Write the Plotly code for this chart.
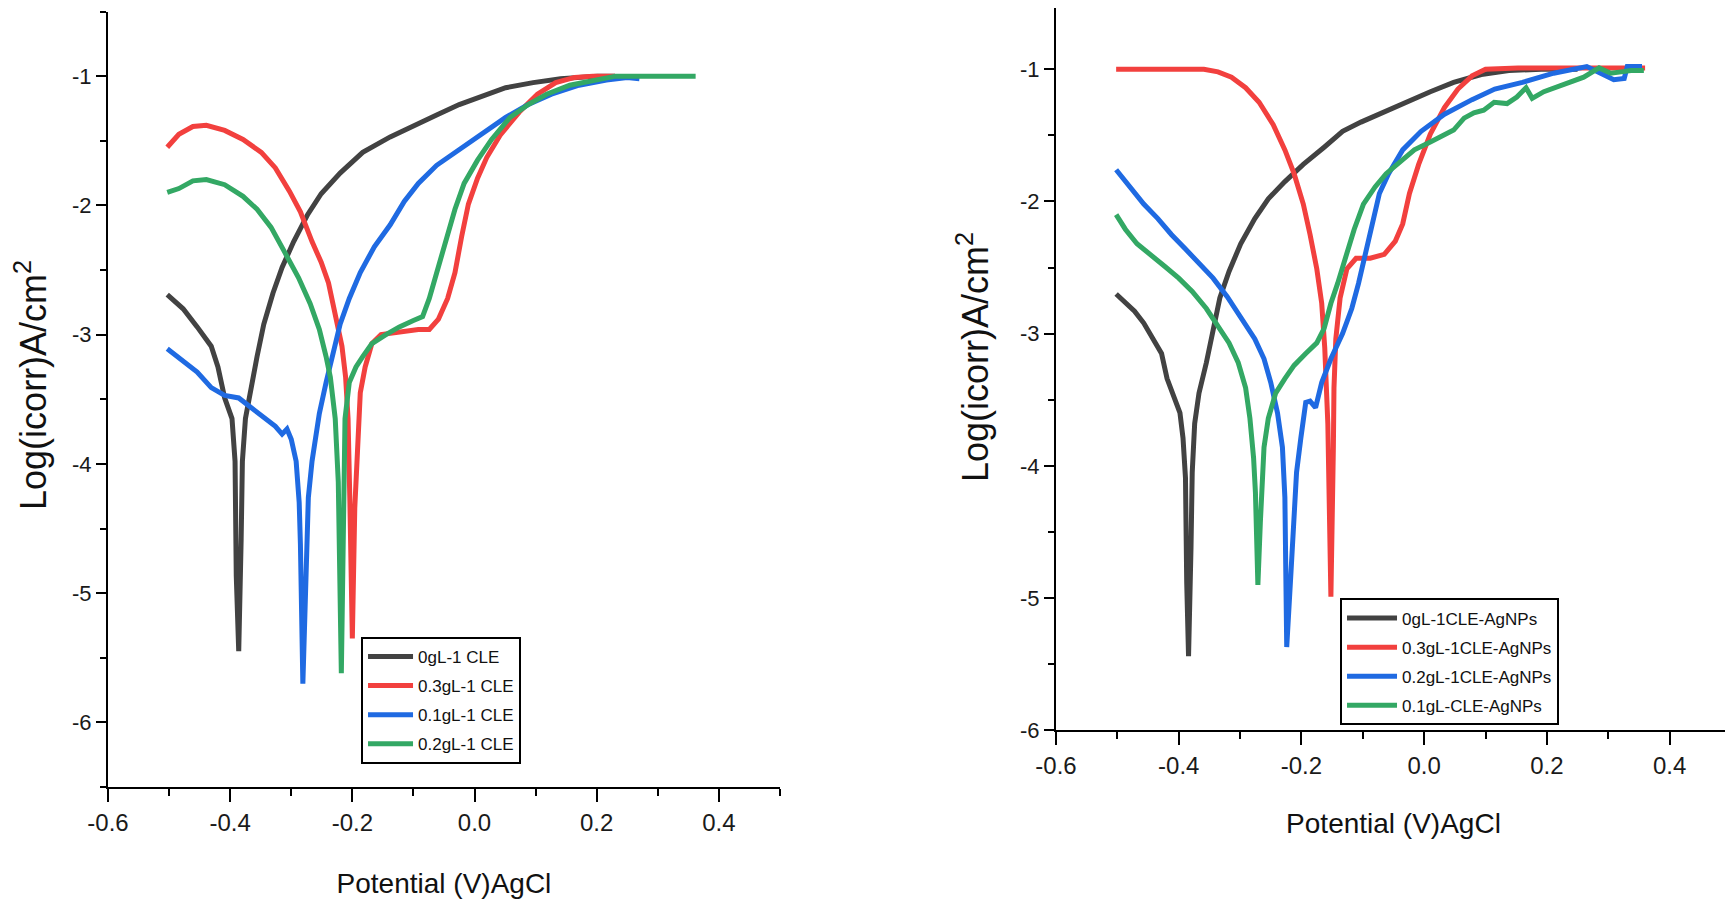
import plotly.graph_objects as go

# ---- data (potential in V vs AgCl, log current) ----
# left panel: CLE inhibitor
x_0g_cle = [-0.503, -0.477, -0.454, -0.431, -0.420, -0.409, -0.397, -0.392, -0.390, -0.386,
            -0.382, -0.380, -0.375, -0.367, -0.356, -0.345, -0.330, -0.315, -0.296, -0.273,
            -0.251, -0.220, -0.183, -0.138, -0.100, -0.062, -0.025, 0.013, 0.051, 0.096,
            0.141, 0.201, 0.230]
y_0g_cle = [-2.69, -2.80, -2.94, -3.09, -3.25, -3.49, -3.65, -3.98, -4.87, -5.45,
            -4.58, -3.98, -3.65, -3.43, -3.17, -2.92, -2.68, -2.48, -2.28, -2.07,
            -1.91, -1.75, -1.59, -1.47, -1.39, -1.30, -1.22, -1.15, -1.09, -1.05,
            -1.02, -1.00, -1.00]

x_03g_cle = [-0.503, -0.484, -0.461, -0.439, -0.409, -0.379, -0.349, -0.326, -0.303, -0.285,
             -0.266, -0.251, -0.239, -0.228, -0.217, -0.211, -0.207, -0.204, -0.200, -0.196,
             -0.192, -0.187, -0.179, -0.168, -0.153, -0.123, -0.092, -0.074, -0.059, -0.044,
             -0.032, -0.021, -0.010, 0.005, 0.020, 0.043, 0.073, 0.103, 0.133, 0.164,
             0.194, 0.230]
y_03g_cle = [-1.55, -1.45, -1.39, -1.38, -1.42, -1.49, -1.59, -1.71, -1.89, -2.05,
             -2.28, -2.44, -2.60, -2.84, -3.09, -3.33, -3.65, -4.30, -5.35, -4.34,
             -3.86, -3.45, -3.25, -3.07, -3.00, -2.98, -2.96, -2.96, -2.88, -2.72,
             -2.52, -2.24, -1.99, -1.79, -1.63, -1.45, -1.28, -1.14, -1.05, -1.01,
             -1.00, -1.00]

x_01g_cle = [-0.503, -0.477, -0.454, -0.431, -0.409, -0.386, -0.364, -0.345, -0.326, -0.315,
             -0.307, -0.300, -0.292, -0.287, -0.285, -0.281, -0.275, -0.272, -0.266, -0.254,
             -0.243, -0.232, -0.220, -0.205, -0.187, -0.164, -0.138, -0.115, -0.092, -0.062,
             -0.025, 0.013, 0.051, 0.088, 0.126, 0.171, 0.216, 0.250, 0.270]
y_01g_cle = [-3.11, -3.21, -3.29, -3.41, -3.47, -3.49, -3.57, -3.65, -3.71, -3.77,
             -3.73, -3.81, -3.98, -4.30, -4.62, -5.70, -4.62, -4.26, -3.98, -3.61,
             -3.37, -3.17, -2.92, -2.72, -2.52, -2.32, -2.15, -1.97, -1.83, -1.69,
             -1.57, -1.45, -1.32, -1.22, -1.14, -1.07, -1.03, -1.01, -1.02]

x_02g_cle = [-0.503, -0.484, -0.461, -0.439, -0.409, -0.379, -0.356, -0.333, -0.311, -0.288,
             -0.269, -0.254, -0.243, -0.236, -0.228, -0.223, -0.218, -0.215, -0.212, -0.205,
             -0.194, -0.183, -0.168, -0.145, -0.123, -0.100, -0.085, -0.074, -0.062, -0.047,
             -0.032, -0.017, 0.005, 0.028, 0.058, 0.088, 0.118, 0.156, 0.194, 0.231,
             0.300, 0.362]
y_02g_cle = [-1.90, -1.87, -1.81, -1.80, -1.84, -1.93, -2.03, -2.17, -2.36, -2.56,
             -2.76, -2.96, -3.17, -3.33, -3.65, -4.14, -5.62, -4.26, -3.65, -3.37,
             -3.25, -3.17, -3.07, -3.00, -2.94, -2.89, -2.86, -2.72, -2.52, -2.28,
             -2.03, -1.83, -1.65, -1.49, -1.32, -1.22, -1.14, -1.07, -1.03, -1.00,
             -1.00, -1.00]

# right panel: CLE-AgNPs
x_0g_ag = [-0.502, -0.487, -0.472, -0.457, -0.442, -0.428, -0.419, -0.408, -0.398, -0.393,
           -0.389, -0.387, -0.384, -0.380, -0.378, -0.374, -0.367, -0.355, -0.344, -0.333,
           -0.318, -0.299, -0.276, -0.254, -0.227, -0.197, -0.163, -0.133, -0.103, -0.065,
           -0.028, 0.010, 0.048, 0.093, 0.138, 0.191, 0.250]
y_0g_ag = [-2.70, -2.77, -2.83, -2.92, -3.04, -3.15, -3.34, -3.49, -3.60, -3.79,
           -4.09, -4.88, -5.44, -4.62, -4.05, -3.68, -3.45, -3.22, -2.96, -2.73,
           -2.53, -2.32, -2.13, -1.98, -1.85, -1.72, -1.59, -1.47, -1.40, -1.32,
           -1.25, -1.17, -1.10, -1.04, -1.01, -1.00, -1.00]

x_03g_ag = [-0.502, -0.412, -0.359, -0.336, -0.314, -0.291, -0.269, -0.246, -0.227, -0.212,
            -0.197, -0.186, -0.175, -0.167, -0.162, -0.157, -0.154, -0.152, -0.148, -0.147,
            -0.144, -0.137, -0.126, -0.111, -0.088, -0.065, -0.047, -0.035, -0.024, -0.009,
            0.010, 0.033, 0.055, 0.078, 0.100, 0.153, 0.250, 0.360]
y_03g_ag = [-1.00, -1.00, -1.00, -1.02, -1.06, -1.14, -1.25, -1.42, -1.61, -1.79,
            -2.02, -2.25, -2.51, -2.77, -3.11, -3.68, -4.43, -4.99, -3.86, -3.41,
            -3.04, -2.73, -2.51, -2.43, -2.43, -2.40, -2.30, -2.17, -1.94, -1.72,
            -1.49, -1.29, -1.15, -1.05, -1.00, -0.99, -0.99, -0.99]

x_02g_ag = [-0.502, -0.480, -0.457, -0.434, -0.412, -0.389, -0.367, -0.344, -0.321, -0.299,
            -0.276, -0.261, -0.250, -0.239, -0.231, -0.227, -0.224, -0.217, -0.212, -0.208,
            -0.201, -0.193, -0.186, -0.177, -0.167, -0.152, -0.133, -0.118, -0.107, -0.096,
            -0.084, -0.073, -0.058, -0.035, -0.005, 0.033, 0.078, 0.115, 0.160, 0.211,
            0.265, 0.309, 0.326, 0.331, 0.355]
y_02g_ag = [-1.76, -1.89, -2.02, -2.13, -2.25, -2.36, -2.47, -2.58, -2.72, -2.87,
            -3.04, -3.19, -3.37, -3.60, -3.86, -4.24, -5.37, -4.80, -4.43, -4.05,
            -3.79, -3.52, -3.51, -3.56, -3.37, -3.19, -3.00, -2.81, -2.62, -2.40,
            -2.13, -1.94, -1.79, -1.61, -1.47, -1.34, -1.23, -1.15, -1.10, -1.03,
            -0.98, -1.08, -1.07, -0.98, -0.98]

x_01g_ag = [-0.502, -0.487, -0.468, -0.446, -0.423, -0.400, -0.378, -0.355, -0.336, -0.318,
            -0.303, -0.291, -0.284, -0.278, -0.275, -0.271, -0.267, -0.265, -0.261, -0.254,
            -0.242, -0.227, -0.212, -0.193, -0.175, -0.163, -0.152, -0.141, -0.129, -0.114,
            -0.099, -0.080, -0.062, -0.039, -0.016, 0.010, 0.033, 0.048, 0.065, 0.081,
            0.097, 0.114, 0.135, 0.151, 0.166, 0.176, 0.195, 0.217, 0.239, 0.260,
            0.285, 0.304, 0.321, 0.337, 0.358]
y_01g_ag = [-2.10, -2.21, -2.32, -2.40, -2.49, -2.58, -2.68, -2.81, -2.94, -3.07,
            -3.22, -3.41, -3.64, -3.94, -4.20, -4.90, -4.43, -4.20, -3.86, -3.64,
            -3.45, -3.34, -3.24, -3.15, -3.07, -2.96, -2.77, -2.62, -2.43, -2.21,
            -2.02, -1.89, -1.79, -1.70, -1.61, -1.55, -1.49, -1.46, -1.37, -1.33,
            -1.31, -1.25, -1.26, -1.21, -1.14, -1.22, -1.17, -1.13, -1.09, -1.06,
            -0.99, -1.03, -1.02, -1.01, -1.01]

x_tick_vals = [-0.6, -0.4, -0.2, 0.0, 0.2, 0.4]
x_tick_text = ["-0.6", "-0.4", "-0.2", "0.0", "0.2", "0.4"]
y_tick_vals = [-1, -2, -3, -4, -5, -6]
y_tick_text = ["-1", "-2", "-3", "-4", "-5", "-6"]

BLACK = "#424242"
RED = "#f2403e"
BLUE = "#1f6ae2"
GREEN = "#33a864"
FONT = "Liberation Sans, Arial, sans-serif"
Y_TITLE = "Log(icorr)A/cm<sup>2</sup>"

fig = go.Figure()

left = [(x_0g_cle, y_0g_cle, "0gL-1 CLE", BLACK),
        (x_03g_cle, y_03g_cle, "0.3gL-1 CLE", RED),
        (x_01g_cle, y_01g_cle, "0.1gL-1 CLE", BLUE),
        (x_02g_cle, y_02g_cle, "0.2gL-1 CLE", GREEN)]
right = [(x_0g_ag, y_0g_ag, "0gL-1CLE-AgNPs", BLACK),
         (x_03g_ag, y_03g_ag, "0.3gL-1CLE-AgNPs", RED),
         (x_02g_ag, y_02g_ag, "0.2gL-1CLE-AgNPs", BLUE),
         (x_01g_ag, y_01g_ag, "0.1gL-CLE-AgNPs", GREEN)]

for xs, ys, name, col in left:
    fig.add_trace(go.Scatter(x=xs, y=ys, mode="lines", name=name, legendgroup=name,
                             line=dict(color=col, width=5),
                             xaxis="x", yaxis="y", legend="legend"))
for xs, ys, name, col in right:
    fig.add_trace(go.Scatter(x=xs, y=ys, mode="lines", name=name, legendgroup=name,
                             line=dict(color=col, width=5),
                             xaxis="x2", yaxis="y2", legend="legend2"))


def xax(domain, anchor, standoff):
    return dict(domain=domain, anchor=anchor, range=[-0.6, 0.5], automargin=False,
                tickvals=x_tick_vals, ticktext=x_tick_text,
                showline=True, linecolor="black", linewidth=2,
                ticks="outside", ticklen=13, tickwidth=2, tickcolor="black",
                minor=dict(dtick=0.1, tick0=-0.6, ticks="outside", ticklen=7,
                           tickwidth=2, tickcolor="black"),
                showgrid=False, zeroline=False,
                tickfont=dict(family=FONT, size=24, color="#1a1a1a"),
                title=dict(text="Potential (V)AgCl", standoff=standoff,
                           font=dict(family=FONT, size=28, color="#111")))


def yax(domain, anchor, rng):
    return dict(domain=domain, anchor=anchor, range=rng, automargin=False,
                tickvals=y_tick_vals, ticktext=y_tick_text,
                showline=True, linecolor="black", linewidth=2,
                ticks="outside", ticklen=10, tickwidth=2, tickcolor="black",
                minor=dict(dtick=0.5, tick0=-1, ticks="outside", ticklen=6,
                           tickwidth=2, tickcolor="black"),
                showgrid=False, zeroline=False,
                tickfont=dict(family=FONT, size=22, color="#1a1a1a"))


def leg(x, y, size, itemwidth):
    return dict(x=x, y=y, xanchor="left", yanchor="top",
                bgcolor="white", bordercolor="black", borderwidth=2,
                itemwidth=itemwidth, tracegroupgap=4,
                font=dict(family=FONT, size=size, color="#111"))


def ytitle(x, y):
    return dict(text=Y_TITLE, xref="paper", yref="paper", x=x, y=y,
                xanchor="center", yanchor="middle", textangle=-90, showarrow=False,
                font=dict(family=FONT, size=36, color="#111"))


# page body adds an 8 px offset, so the figure is drawn 8 px smaller
fig.update_layout(
    width=1725, height=902,
    margin=dict(l=100, r=2, t=0, b=123),
    paper_bgcolor="white", plot_bgcolor="white",
    xaxis=xax([0.0, 0.4140], "y", 39),
    yaxis=yax([0.0, 0.9955], "x", [-6.5, -0.5]),
    xaxis2=xax([0.5841, 1.0], "y2", 35),
    yaxis2=yax([0.0728, 1.0], "x2", [-6.0, -0.537]),
    legend=leg(0.1559, 0.1926, 17, 45),
    legend2=leg(0.7591, 0.2420, 17, 50),
    annotations=[ytitle(-0.0475, 0.516), ytitle(0.533, 0.552)],
    showlegend=True,
)

fig.write_html("out.html")
